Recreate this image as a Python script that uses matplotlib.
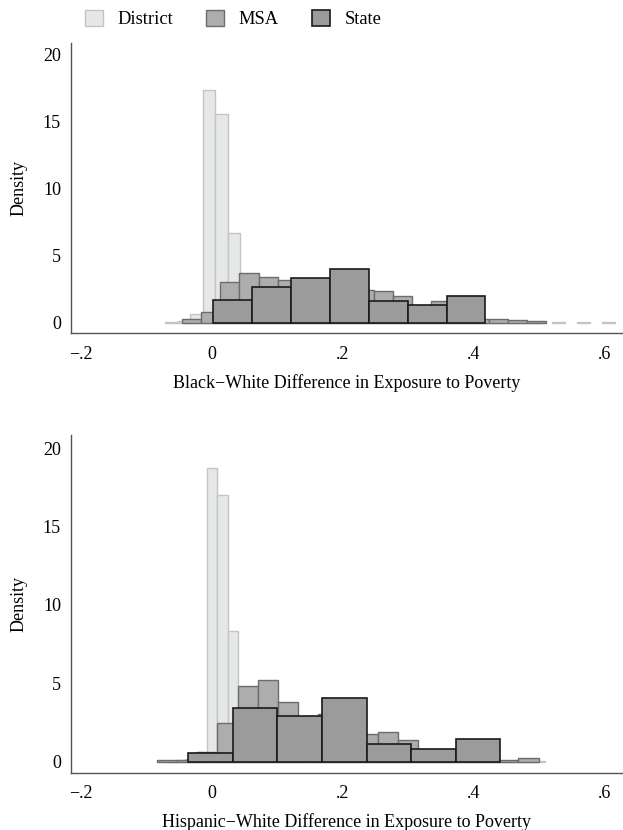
import numpy as np
import matplotlib.pyplot as plt
from matplotlib.patches import Patch

plt.rcParams['font.family'] = ['Liberation Serif', 'DejaVu Serif']
plt.rcParams['font.size'] = 13

# histogram binning (start of first bin, bin width) and densities
# --- Black-White panel
bw_district_start, bw_district_width = -0.0716, 0.0191
bw_district = [0.08, 0.12, 0.63, 17.29, 15.51, 6.65, 3.2, 1.9, 1.2, 0.9, 0.7, 0.55,
               0.45, 0.4, 0.35, 0.3, 0.28, 0.25, 0.22, 0.2, 0.2, 0.18, 0.15, 0.15,
               0.12, 0.12, 0.1, 0.1, 0.08, 0.08, 0.0, 0.06, 0.0, 0.06, 0.0, 0.06]
bw_msa_start, bw_msa_width = -0.046, 0.02936
bw_msa = [0.24, 0.76, 3.0, 3.67, 3.41, 3.17, 2.9, 2.6, 2.8, 2.4, 2.37, 1.95,
          1.1, 1.6, 1.2, 0.3, 0.24, 0.16, 0.15]
bw_state_start, bw_state_width = 0.002, 0.0595
bw_state = [1.65, 2.62, 3.29, 3.96, 1.62, 1.30, 1.97]

# --- Hispanic-White panel
hw_district_start, hw_district_width = -0.0891, 0.0162
hw_district = [0.0, 0.05, 0.1, 0.2, 0.6, 18.71, 17.01, 8.35, 4.2, 2.8, 1.8, 1.2,
               0.9, 0.7, 0.6, 0.5, 0.45, 0.4, 0.35, 0.3, 0.3, 0.25, 0.22, 0.2,
               0.18, 0.15, 0.12, 0.1, 0.1, 0.08, 0.08, 0.06, 0.06, 0.05, 0.05,
               0.04, 0.04]
hw_msa_start, hw_msa_width = -0.0836, 0.0307
hw_msa = [0.1, 0.1, 0.64, 2.44, 4.83, 5.23, 3.83, 2.0, 3.06, 2.6, 1.8, 1.87,
          1.38, 0.5, 0.5, 0.9, 0.8, 0.13, 0.21]
hw_state_start, hw_state_width = -0.0362, 0.0682
hw_state = [0.55, 3.46, 2.89, 4.04, 1.13, 0.83, 1.42]

xticks = [-0.2, 0, 0.2, 0.4, 0.6]
xticklabels = ['\u2212.2', '0', '.2', '.4', '.6']
yticks = [0, 5, 10, 15, 20]

styles = {
    'District': dict(facecolor='#e6e7e7', edgecolor='#c4c4c4', linewidth=1.0),
    'MSA': dict(facecolor='#adadad', edgecolor='#6c6c6c', linewidth=1.0),
    'State': dict(facecolor='#9b9b9b', edgecolor='#1a1a1a', linewidth=1.2),
}


def draw_hist(ax, start, width, dens, style):
    dens = np.array(dens)
    left = start + width * np.arange(len(dens))
    keep = dens > 0
    ax.bar(left[keep], dens[keep], width=width, align='edge', **style)


def setup(ax, xlabel, ylim):
    ax.set_xlim(-0.216, 0.627)
    ax.set_ylim(*ylim)
    ax.set_xticks(xticks)
    ax.set_xticklabels(xticklabels)
    ax.set_yticks(yticks)
    ax.tick_params(axis='x', length=0, pad=9)
    ax.tick_params(axis='y', length=0, pad=7)
    for s in ['top', 'right']:
        ax.spines[s].set_visible(False)
    for s in ['left', 'bottom']:
        ax.spines[s].set_color('#555555')
        ax.spines[s].set_linewidth(1.0)
    ax.set_xlabel(xlabel, labelpad=8)
    ax.set_ylabel('Density', labelpad=11)


fig = plt.figure(figsize=(6.23, 8.3), dpi=100)
ax1 = fig.add_axes([0.1135, 0.5984, 0.8845, 0.3494])
ax2 = fig.add_axes([0.1135, 0.0690, 0.8845, 0.4069])

draw_hist(ax1, bw_district_start, bw_district_width, bw_district, styles['District'])
draw_hist(ax1, bw_msa_start, bw_msa_width, bw_msa, styles['MSA'])
draw_hist(ax1, bw_state_start, bw_state_width, bw_state, styles['State'])
setup(ax1, 'Black\u2212White Difference in Exposure to Poverty', (-0.8, 20.8))

draw_hist(ax2, hw_district_start, hw_district_width, hw_district, styles['District'])
draw_hist(ax2, hw_msa_start, hw_msa_width, hw_msa, styles['MSA'])
draw_hist(ax2, hw_state_start, hw_state_width, hw_state, styles['State'])
setup(ax2, 'Hispanic\u2212White Difference in Exposure to Poverty', (-0.7, 20.84))

handles = [Patch(label=k, **v) for k, v in styles.items()]
fig.legend(handles=handles, loc='center left', bbox_to_anchor=(0.1364, 0.977),
           ncol=3, frameon=False, borderpad=0, borderaxespad=0, fontsize=13.3,
           handlelength=0.95, handleheight=1.0, handletextpad=0.8,
           columnspacing=1.8)

fig.savefig('out.png', dpi=100)
